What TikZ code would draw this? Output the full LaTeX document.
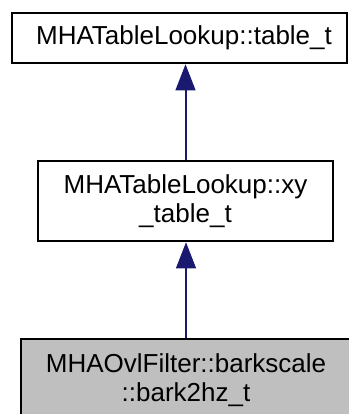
\documentclass[tikz,border=0pt]{standalone}
\usepackage{fontspec}
\setmainfont{Liberation Sans}
\usetikzlibrary{arrows.meta}
\definecolor{edgeblue}{RGB}{25,25,112}
\definecolor{boxgray}{RGB}{191,191,191}
\tikzset{
  classbox/.style={draw=black, line width=2.6pt, fill=white, align=center,
    inner sep=0pt, font=\fontsize{26}{29.5}\selectfont},
  inherit/.style={draw=edgeblue, line width=2pt,
    -{Triangle[width=20pt,length=26pt,line width=1pt,fill=edgeblue]}},
}
\begin{document}
\begin{tikzpicture}[x=1pt,y=1pt,yscale=-1]
  \useasboundingbox (0,0) rectangle (348,414);

  % class boxes
  \node[classbox, minimum width=335, minimum height=50] (tablet) at (179.5,38) {\hspace*{9pt}MHATableLookup::table\_t};
  \node[classbox, minimum width=295, minimum height=80] (xytablet) at (185.5,201) {MHATableLookup::xy\\\_table\_t};
  \node[classbox, fill=boxgray, minimum width=330, minimum height=82] (barkhz) at (186,380) {MHAOvlFilter::barkscale\\::bark2hz\_t};

  % inheritance arrows
  \draw[inherit] (xytablet.north) -- (xytablet.north |- tablet.south);
  \draw[inherit] (barkhz.north) -- (barkhz.north |- xytablet.south);
\end{tikzpicture}
\end{document}
